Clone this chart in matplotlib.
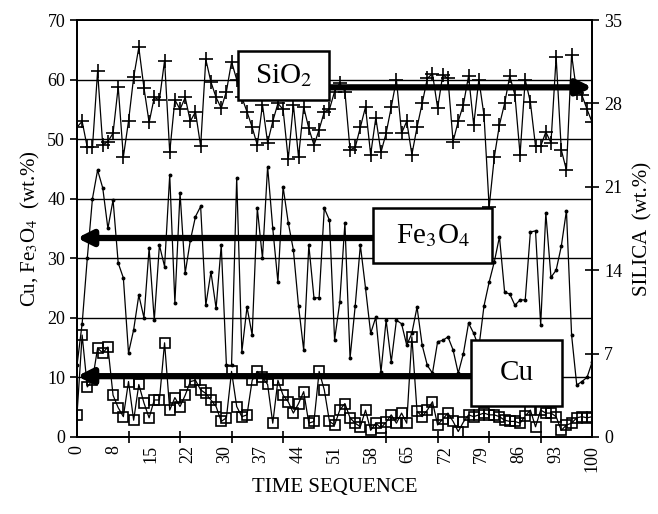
import numpy as np
import matplotlib
matplotlib.use('Agg')
import matplotlib.pyplot as plt
from matplotlib.patches import Rectangle

plt.rcParams['font.family'] = ['Liberation Serif', 'DejaVu Serif']
plt.rcParams['mathtext.fontset'] = 'stix'

# time sequence (sample number)
time_seq = np.arange(0, 101)

# silica, wt.% (right axis)
sio2 = [26, 26.5, 24.3, 24.3, 30.7, 24.5, 24.8, 25.5, 29.4, 23.5,
        26.5, 30.2, 32.7, 29.3, 26.4, 28.5, 28.3, 31.6, 23.9, 28.3,
        27.5, 28.5, 26.5, 27.3, 24.4, 31.7, 29.8, 28.5, 27.6, 29.0,
        31.5, 30, 28.5, 27.3, 26, 24.5, 27.9, 24.7, 26.5, 28,
        27.5, 23.3, 27.9, 23.5, 27.7, 25.9, 24.5, 25.8, 27.3, 27.5,
        29, 29.7, 29, 24.1, 24.3, 26, 27.7, 23.7, 26.8, 23.9,
        25.5, 27.7, 30, 25.5, 26.5, 23.7, 26, 28, 30.1, 30.5,
        27.6, 30.4, 30.1, 24.8, 26.5, 27.9, 30.3, 26.2, 30, 27,
        19.3, 23.5, 26.2, 28, 30.3, 28.7, 23.7, 30, 28.1, 24.4,
        24.4, 25.6, 24.7, 31.9, 24.1, 22.4, 32.1, 28.9, 28.7, 27.5,
        26.4]

# magnetite, wt.% (left axis)
fe3o4 = [12, 19, 30, 40, 44.8, 41.8, 35, 39.8, 29.2, 26.7,
         14.1, 18, 23.8, 20, 31.7, 19.6, 32.2, 28.6, 44, 22.5,
         41, 27.5, 33, 37, 38.7, 22.1, 27.7, 21.6, 32.2, 12.1,
         12, 43.5, 14.3, 21.8, 17.1, 38.4, 30, 45.4, 35, 26,
         42, 36, 31.4, 22, 14.6, 32.2, 23.3, 23.4, 38.4, 36.4,
         16.3, 22.6, 35.9, 13.2, 22, 32.2, 25, 17.4, 20.1, 10.9,
         19.6, 12.6, 19.6, 19, 15.4, 17.4, 21.8, 15.4, 12, 10.7,
         16, 16.2, 16.8, 14.6, 10.7, 14, 19.1, 17.4, 15, 22,
         26, 29.4, 33.6, 24.3, 24, 22.1, 23, 23, 34.4, 34.6,
         18.8, 37.6, 26.8, 28, 32, 38, 17.1, 8.7, 9.3, 10,
         12.6]

# copper, wt.% (left axis)
cu = [3.7, 17.1, 8.4, 9.5, 14.9, 14.1, 15.1, 7, 4.9, 3.4,
      9.3, 2.8, 8.8, 5.7, 3.2, 6.2, 6.2, 15.8, 4.5, 6.6,
      5.1, 7, 9.3, 9.5, 7.9, 7.3, 6.2, 5.1, 2.6, 3.2,
      11, 5.1, 3.4, 3.7, 9.5, 11, 10, 8.8, 2.3, 9.5,
      7, 5.9, 4, 5.6, 7.6, 2.3, 2.6, 11, 7.9, 2.6,
      2, 4.5, 5.6, 3.2, 2.3, 1.7, 4.5, 1.1, 2.3, 1.5,
      2.5, 3.7, 2.3, 4, 2.3, 16.8, 4.3, 3.4, 4.5, 5.9,
      2, 3, 4, 2.6, 0.9, 2.5, 3.7, 3.4, 3.7, 4,
      3.7, 3.7, 3.4, 2.8, 2.6, 2.6, 2.3, 3.5, 4.5, 1.7,
      4.5, 4, 4, 3.4, 1.1, 2, 2.3, 3.2, 3.4, 3.2,
      3.4]

x_labels = ['0', '8', '15', '22', '30', '37', '44', '51', '58', '65',
            '72', '79', '86', '93', '100']

fig = plt.figure(figsize=(6.58, 5.14), dpi=100)
ax = fig.add_subplot(111)
fig.subplots_adjust(left=0.117, right=0.900, bottom=0.150, top=0.961)
ax2 = ax.twinx()

# left axis series
ax.plot(time_seq, fe3o4, color='black', lw=0.9, marker='o', ms=1.8)
ax.plot(time_seq, cu, color='black', lw=0.9, marker='s', ms=7,
        mfc='none', mec='black', mew=1.2)

# right axis series
ax2.plot(time_seq, sio2, color='black', lw=0.9, marker='+', ms=10, mew=1.2)

ax.set_xlim(0, 100)
ax.set_ylim(0, 70)
ax2.set_ylim(0, 35)
ax.set_yticks(range(0, 71, 10))
ax2.set_yticks(range(0, 36, 7))
for v in range(10, 70, 10):
    ax.axhline(v, color='black', lw=1.0, zorder=0)

ax.set_xticks(np.linspace(0, 100, 15))
ax.set_xticklabels(x_labels, rotation=90)
ax.set_xticks(np.arange(10, 101, 10), minor=True)
ax.tick_params(axis='x', which='major', length=0, pad=6, labelsize=13)
ax.tick_params(axis='x', which='minor', direction='inout', length=9, width=1.2)
ax.tick_params(axis='y', direction='out', length=5, width=1.2, labelsize=13)
ax2.tick_params(axis='y', direction='inout', length=10, width=1.2, labelsize=13)

for a in (ax, ax2):
    for s in a.spines.values():
        s.set_linewidth(1.3)

ax.set_xlabel('TIME SEQUENCE', fontsize=15)
ax.set_ylabel(r'Cu, Fe$_3$O$_4$  (wt.%)', fontsize=15)
ax2.set_ylabel('SILICA  (wt.%)', fontsize=15, labelpad=8)

# labelled arrows
arrow = dict(arrowstyle='-|>', lw=4.5, color='black', mutation_scale=22,
             shrinkA=0, shrinkB=0)
ax2.annotate('', xy=(100, 58.7), xytext=(48.9, 58.7),
             xycoords=ax.transData, textcoords=ax.transData, arrowprops=arrow)
ax2.annotate('', xy=(0, 33.4), xytext=(57.5, 33.4),
             xycoords=ax.transData, textcoords=ax.transData, arrowprops=arrow)
ax2.annotate('', xy=(0, 10.2), xytext=(76.5, 10.2),
             xycoords=ax.transData, textcoords=ax.transData, arrowprops=arrow)

# label boxes (axes fraction: x0, y0, width, height)
boxes = [(r'SiO$_2$', 0.313, 0.808, 0.176, 0.118),
         (r'Fe$_3$O$_4$', 0.575, 0.417, 0.231, 0.132),
         ('Cu', 0.765, 0.074, 0.177, 0.159)]
for label, bx, by, bw, bh in boxes:
    ax2.add_patch(Rectangle((bx, by), bw, bh, transform=ax.transAxes,
                            fc='white', ec='black', lw=1.8, zorder=5))
    ax2.text(bx + bw / 2, by + bh / 2, label, transform=ax.transAxes,
             fontsize=21, ha='center', va='center', zorder=6)

plt.savefig('out.png', dpi=100)
